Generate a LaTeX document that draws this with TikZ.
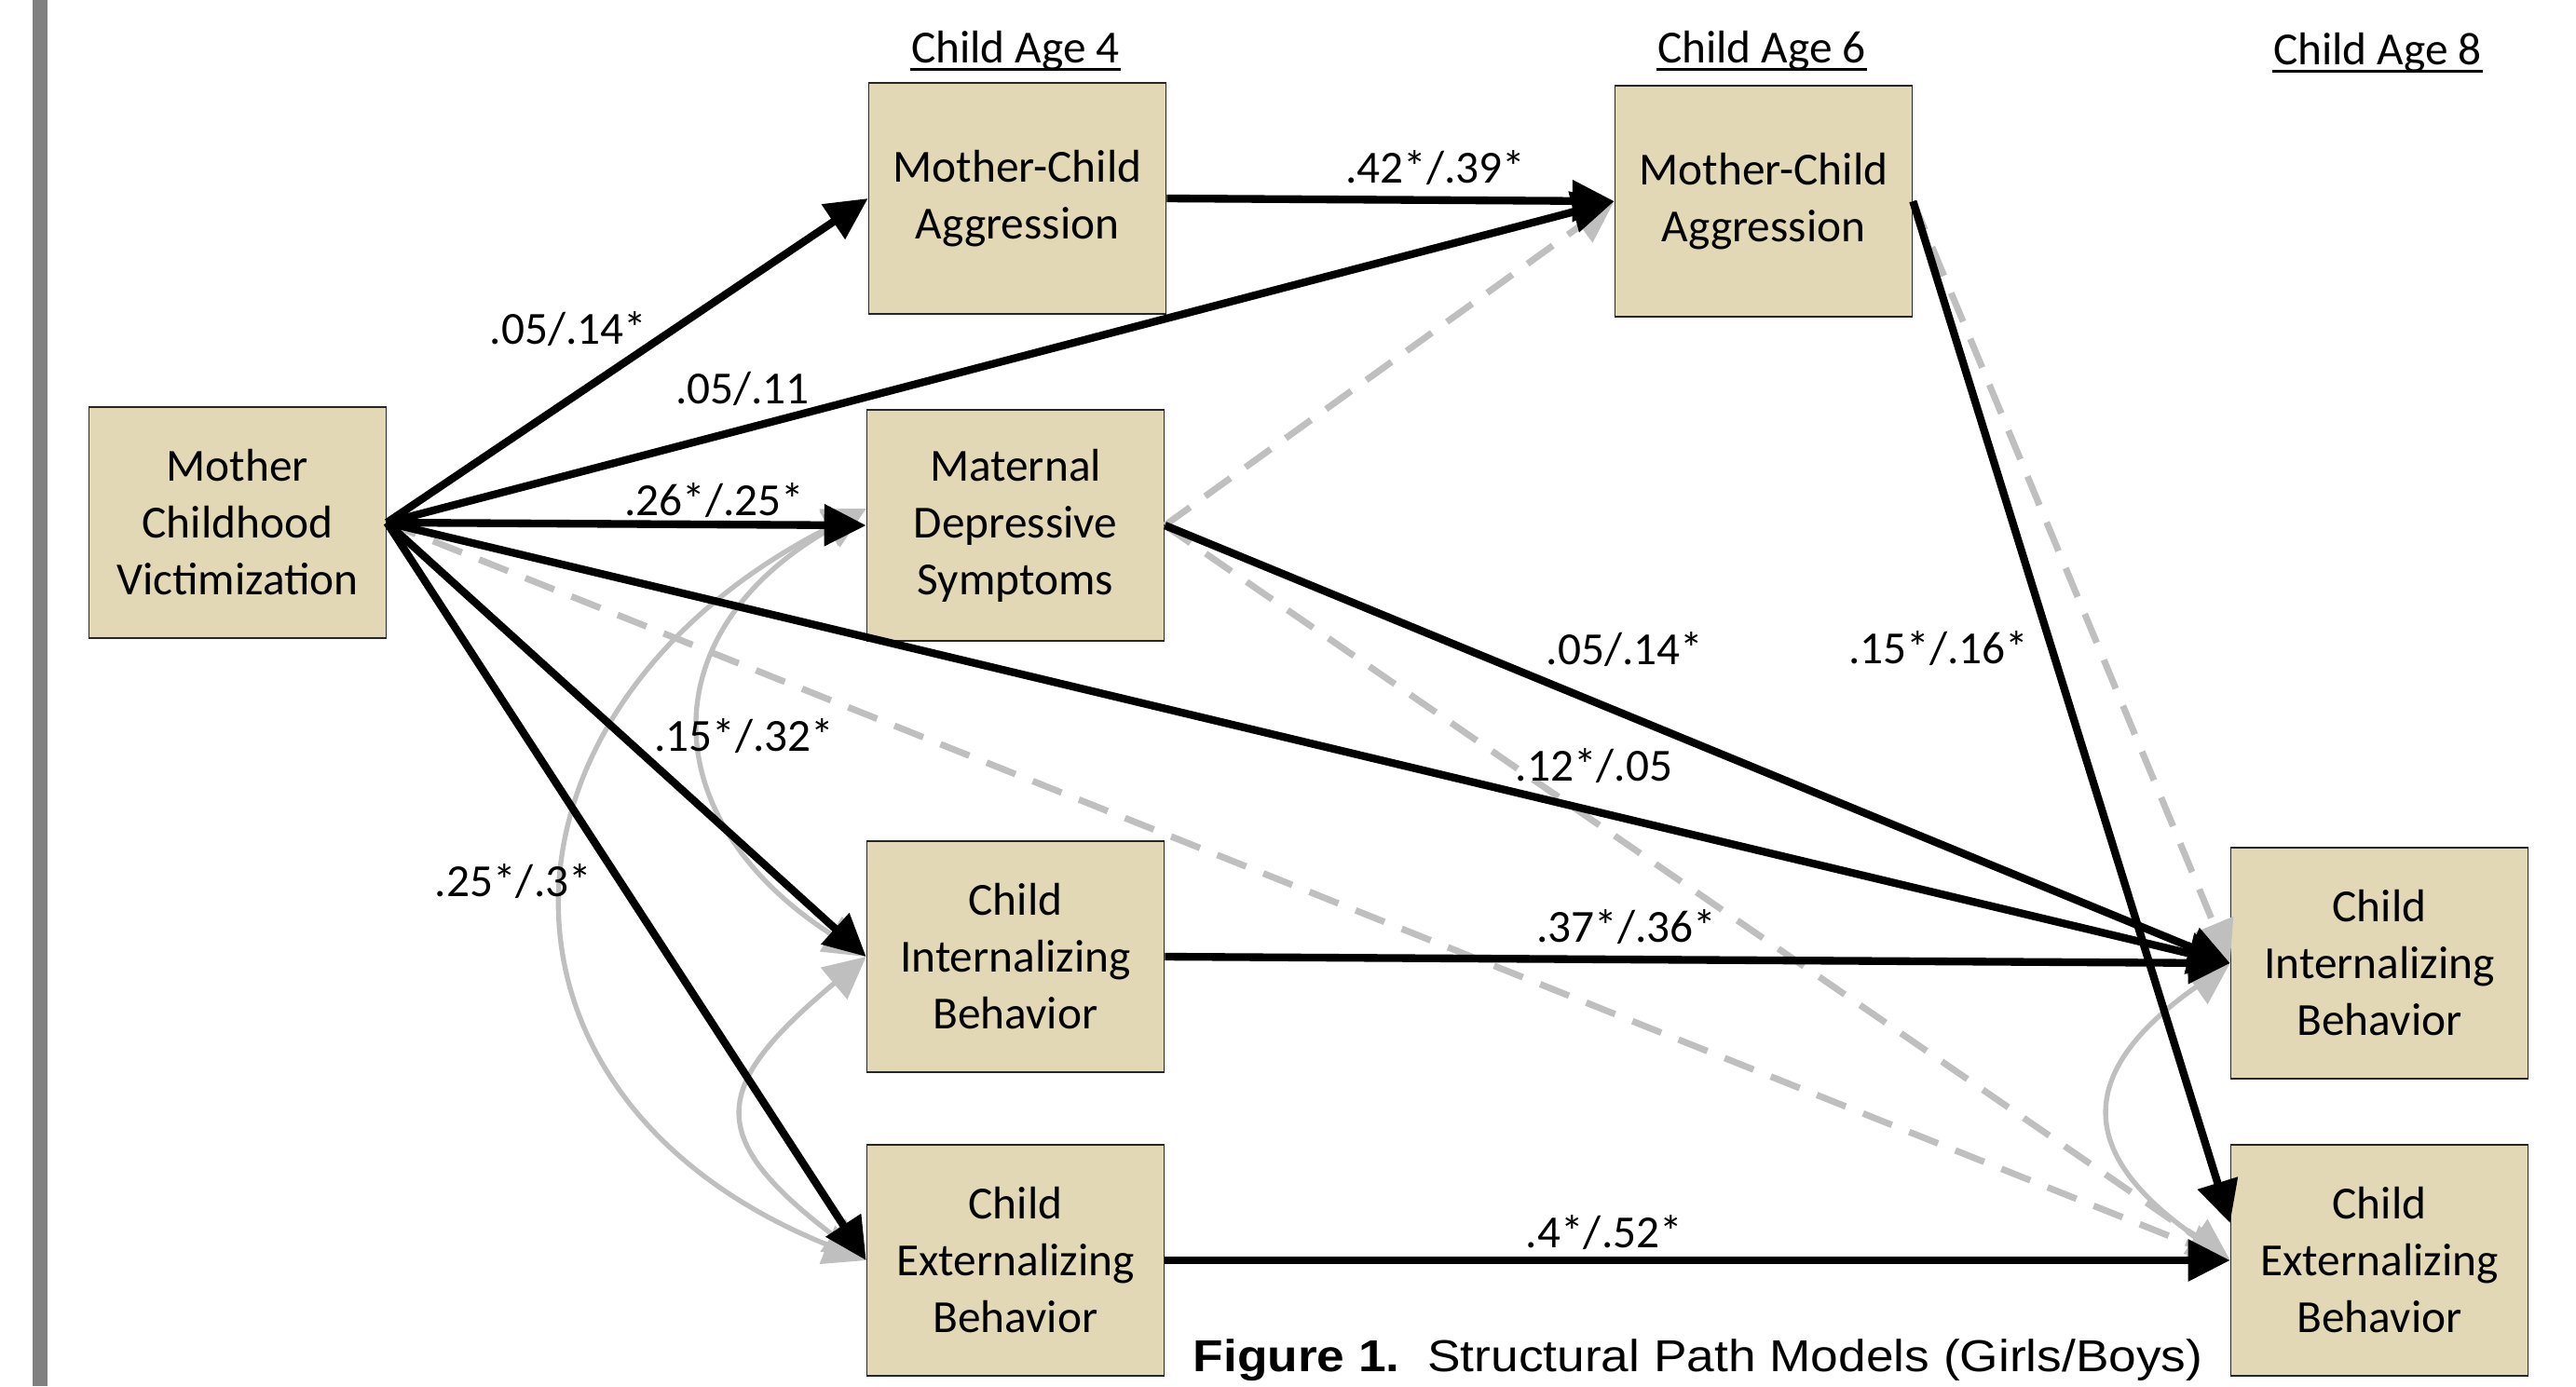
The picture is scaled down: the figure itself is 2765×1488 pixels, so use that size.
\documentclass[tikz,border=0pt]{standalone}
\usepackage{fontspec}
\setmainfont{Carlito}
\newfontfamily\capfont{Liberation Sans}
\usetikzlibrary{arrows.meta}
\definecolor{boxfill}{RGB}{226,216,182}
\definecolor{lgray}{RGB}{191,191,191}
\definecolor{bargray}{RGB}{128,128,128}
\begin{document}
\begin{tikzpicture}[x=0.3pt,y=-0.3pt,
  box/.style={draw=black!85, line width=0.5pt, fill=boxfill, minimum width=95.7pt, minimum height=74.4pt,
    align=center, inner sep=0pt, font=\fontsize{14.8pt}{18.3pt}\selectfont},
  blk/.style={line width=2.5pt, -{Triangle[length=13.5pt,width=13pt]}},
  nsp/.style={draw=lgray, line width=2.1pt, dash pattern=on 10pt off 6pt, -{Triangle[length=13.5pt,width=13pt]}},
  cov/.style={draw=lgray, line width=1.6pt, {Triangle[length=13.5pt,width=13pt]}-{Triangle[length=13.5pt,width=13pt]}},
  lab/.style={inner sep=0pt, anchor=base, font=\fontsize{14.8pt}{18pt}\selectfont},
  hdr/.style={inner sep=0pt, anchor=base, font=\fontsize{14.8pt}{18pt}\selectfont},
  uline/.style={line width=1.1pt}
]
\useasboundingbox (0,0) rectangle (2765,1488);
\fill[bargray] (35,0) rectangle (51,1488);

% boxes
\node[box] (mcv)  at (255,561)  {Mother\\Childhood\\Victimization};
\node[box] (mca4) at (1092,213) {Mother-Child\\Aggression};
\node[box] (mds)  at (1090,564) {Maternal\\Depressive\\Symptoms};
\node[box] (cib4) at (1090,1027) {Child\\Internalizing\\Behavior};
\node[box] (ceb4) at (1090,1353) {Child\\Externalizing\\Behavior};
\node[box] (mca6) at (1893,216) {Mother-Child\\Aggression};
\node[box] (cib8) at (2554,1034) {Child\\Internalizing\\Behavior};
\node[box] (ceb8) at (2554,1353) {Child\\Externalizing\\Behavior};

% headers
\node[hdr] (h4) at (1090,67) {Child Age 4};
\node[hdr] (h6) at (1891,67) {Child Age 6};
\node[hdr] (h8) at (2552,69) {Child Age 8};
\foreach \h in {h4,h6,h8}
  \draw[uline] ([yshift=-2.2pt]\h.base west) -- ([yshift=-2.2pt]\h.base east);

% non-significant paths
\draw[nsp] (mds.east) -- (mca6.west);
\draw[nsp] (mds.east) -- (ceb8.west);
\draw[nsp] (mcv.east) -- (ceb8.west);
\draw[nsp] (mca6.east) -- (cib8.west);

% covariances
\draw[cov] ([yshift=5.4pt]mds.west) .. controls (511,758) and (494,1178) .. (ceb4.west);
\draw[cov] ([yshift=5.4pt]mds.west) .. controls (695,679) and (702,881) .. (cib4.west);
\draw[cov] (cib4.west) .. controls (763,1166) and (755,1220) .. (ceb4.west);
\draw[cov] (cib8.west) .. controls (2225,1152) and (2230,1240) .. (ceb8.west);

% significant paths
\draw[blk] (mcv.east) -- (mca4.west);
\draw[blk] (mcv.east) -- (mca6.west);
\draw[blk] (mcv.east) -- (mds.west);
\draw[blk] (mcv.east) -- (cib8.west);
\draw[blk] (mcv.east) -- (cib4.west);
\draw[blk] (mcv.east) -- (ceb4.west);
\draw[blk] (mca4.east) -- (mca6.west);
\draw[blk] (mds.east) -- (cib8.west);
\draw[blk] (mca6.east) -- ([yshift=12pt]ceb8.west);
\draw[blk] (cib4.east) -- (cib8.west);
\draw[blk] (ceb4.east) -- (ceb8.west);

% labels
\node[lab] (l1) at (610,369) {.05/.14*};
\node[lab] (l2) at (797,433) {.05/.11};
\node[lab] (l3) at (767,553) {.26*/.25*};
\node[lab] (l4) at (799,806) {.15*/.32*};
\node[lab] (l5) at (551,962) {.25*/.3*};
\node[lab] (l6) at (1711,838) {.12*/.05};
\node[lab] (l7) at (1541,196) {.42*/.39*};
\node[lab] (l8) at (1744,713) {.05/.14*};
\node[lab] (l9) at (2081,712) {.15*/.16*};
\node[lab] (l10) at (1746,1011) {.37*/.36*};
\node[lab] (l11) at (1722,1339) {.4*/.52*};

% caption
\node[inner sep=0pt, anchor=base west, font=\capfont\fontsize{14.4pt}{17pt}\selectfont] (cap) at (1280,1472)
  {\scalebox{1.11}[1]{\textbf{Figure 1.}\hspace{8pt}Structural Path Models (Girls/Boys)}};
\end{tikzpicture}
\end{document}
